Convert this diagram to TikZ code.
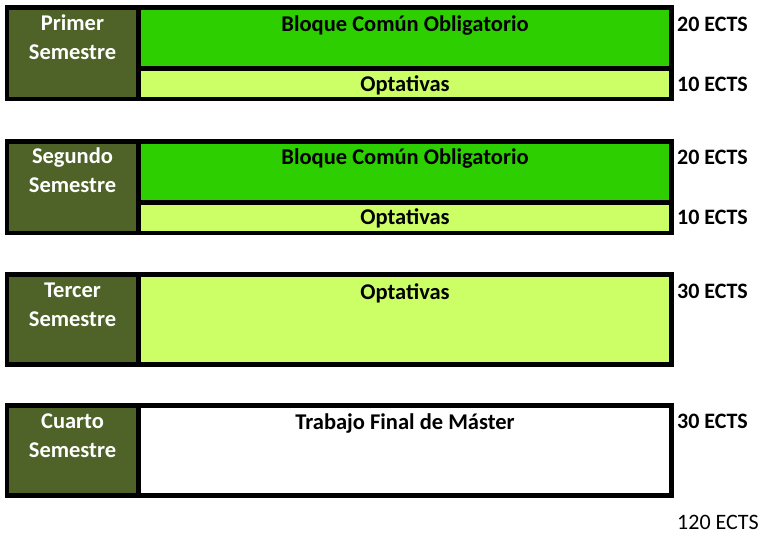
\documentclass[tikz,border=0pt]{standalone}
\usepackage{fontspec}
\setmainfont{Carlito}
\definecolor{olive}{HTML}{4F6228}
\definecolor{vgreen}{HTML}{2ECF00}
\definecolor{lgreen}{HTML}{CCFF66}
\tikzset{
  frame/.style={fill=black},
  semcell/.style={fill=olive},
  txt/.style={font=\fontsize{22.5}{29}\selectfont\bfseries, inner sep=0pt, align=center},
  semtxt/.style={txt, text=white},
  ects/.style={font=\fontsize{22}{24}\selectfont\bfseries, inner sep=0pt, anchor=west},
}
\begin{document}
\begin{tikzpicture}[x=1pt,y=-1pt]
\useasboundingbox (0,0) rectangle (765,544);
% Block 1
\fill[frame] (5,5) rectangle (674,101);
\fill[semcell] (9,10) rectangle (136,97);
\fill[vgreen] (141,10) rectangle (669,66);
\fill[lgreen] (141,71) rectangle (669,97);
\node[semtxt] (s1) at (72.5,37) {Primer\\Semestre};
\node[txt] (b1) at (405,26) {Bloque Común Obligatorio};
\node[txt] (o1) at (405,85) {Optativas};
\node[ects] (e1) at (677,24) {20 ECTS};
\node[ects] (e2) at (677,84) {10 ECTS};
% Block 2
\fill[frame] (5,139) rectangle (674,235);
\fill[semcell] (9,144) rectangle (136,231);
\fill[vgreen] (141,144) rectangle (669,200);
\fill[lgreen] (141,205) rectangle (669,231);
\node[semtxt] (s2) at (72.5,170) {Segundo\\Semestre};
\node[txt] (b2) at (405,159) {Bloque Común Obligatorio};
\node[txt] (o2) at (405,218) {Optativas};
\node[ects] (e3) at (677,157) {20 ECTS};
\node[ects] (e4) at (677,217) {10 ECTS};
% Block 3
\fill[frame] (5,272) rectangle (674,367);
\fill[semcell] (9,277) rectangle (136,362);
\fill[lgreen] (141,277) rectangle (669,362);
\node[semtxt] (s3) at (72.5,305) {Tercer\\Semestre};
\node[txt] (o3) at (405,293) {Optativas};
\node[ects] (e5) at (677,291) {30 ECTS};
% Block 4
\fill[frame] (5,403) rectangle (674,498);
\fill[semcell] (9,408) rectangle (136,493);
\fill[white] (141,408) rectangle (669,493);
\node[semtxt] (s4) at (72.5,436) {Cuarto\\Semestre};
\node[txt] (t4) at (405,423) {Trabajo Final de Máster};
\node[ects] (e6) at (677,421) {30 ECTS};
\node[ects, font=\fontsize{22}{24}\selectfont] (tot) at (677,522) {120 ECTS};
\end{tikzpicture}
\end{document}
